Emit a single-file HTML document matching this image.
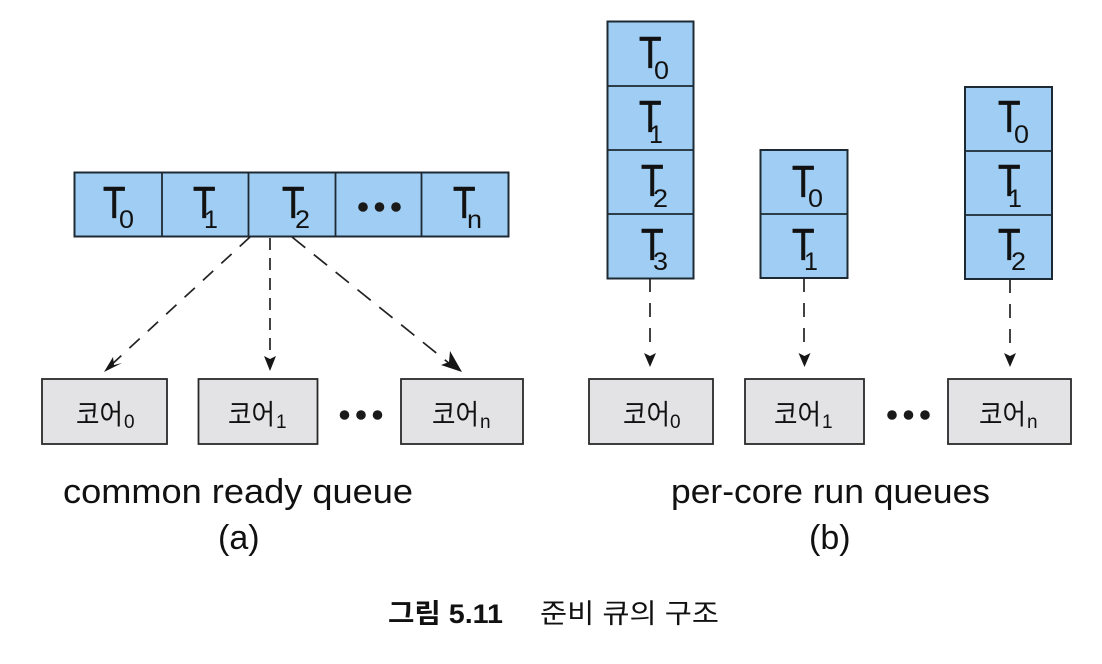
<!DOCTYPE html>
<html><head><meta charset="utf-8">
<style>
html,body{margin:0;padding:0;background:#fff;width:1102px;height:664px;overflow:hidden}
svg{display:block;filter:blur(0.35px)}
text{fill:#111;font-family:"Liberation Sans",sans-serif}
.t{font-size:32px;stroke:#111;stroke-width:.5px}
.s{font-size:25px}
.k{font-family:"Liberation Sans","Noto Sans CJK KR",sans-serif;font-size:28px;font-weight:400}
.c{font-size:19px}
.l{font-size:34px}
</style></head><body>
<svg width="1102" height="664" viewBox="0 0 1102 664" xmlns="http://www.w3.org/2000/svg">
<rect width="1102" height="664" fill="#fff"/>
<g fill="#9fcdf3" stroke="#1d2a33" stroke-width="2">
<rect x="74.500" y="172.500" width="434" height="64"/>
<rect x="607.500" y="21.500" width="86" height="257"/>
<rect x="760.500" y="150" width="87" height="128"/>
<rect x="965" y="87" width="87" height="192"/>
</g>
<g stroke="#1d2a33" stroke-width="1.800" fill="none">
<path d="M162 172V236M248.500 172V236M335.500 172V236M421.500 172V236"/>
<path d="M607 86H693M607 150H693M607 214H693"/>
<path d="M760 214H847"/>
<path d="M965 151H1052M965 215H1052"/>
</g>
<g fill="#e3e3e5" stroke="#2a2a2a" stroke-width="1.800">
<rect x="42" y="379" width="125" height="65"/>
<rect x="198.500" y="379" width="119" height="65"/>
<rect x="401" y="379" width="122" height="65"/>
<rect x="589" y="379" width="124" height="65"/>
<rect x="745" y="379" width="119" height="65"/>
<rect x="948" y="379" width="123" height="65"/>
</g>

<!-- left queue labels -->
<text class="t" transform="translate(103,218) scale(1.150,1.400)">T</text><text class="s" x="119" y="228" textLength="15" lengthAdjust="spacingAndGlyphs">0</text>
<text class="t" transform="translate(193,218) scale(1.150,1.400)">T</text><text class="s" x="204" y="228">1</text>
<text class="t" transform="translate(282,218) scale(1.150,1.400)">T</text><text class="s" x="295" y="228" textLength="15" lengthAdjust="spacingAndGlyphs">2</text>
<text class="t" transform="translate(453,218) scale(1.150,1.400)">T</text><text class="s" x="467" y="228" textLength="15" lengthAdjust="spacingAndGlyphs">n</text>
<g fill="#1a1a1a"><circle cx="363" cy="207" r="4.800"/><circle cx="379.500" cy="207" r="4.800"/><circle cx="396" cy="207" r="4.800"/></g>

<!-- stack 1 -->
<text class="t" transform="translate(639,68) scale(1.150,1.400)">T</text><text class="s" x="654" y="79" textLength="15" lengthAdjust="spacingAndGlyphs">0</text>
<text class="t" transform="translate(639,132) scale(1.150,1.400)">T</text><text class="s" x="649" y="143">1</text>
<text class="t" transform="translate(641,196) scale(1.150,1.400)">T</text><text class="s" x="653" y="207" textLength="15" lengthAdjust="spacingAndGlyphs">2</text>
<text class="t" transform="translate(641,260) scale(1.150,1.400)">T</text><text class="s" x="653" y="270" textLength="15" lengthAdjust="spacingAndGlyphs">3</text>
<!-- stack 2 -->
<text class="t" transform="translate(792,197) scale(1.150,1.400)">T</text><text class="s" x="808" y="207" textLength="15" lengthAdjust="spacingAndGlyphs">0</text>
<text class="t" transform="translate(792,260) scale(1.150,1.400)">T</text><text class="s" x="804" y="270">1</text>
<!-- stack 3 -->
<text class="t" transform="translate(998,132) scale(1.150,1.400)">T</text><text class="s" x="1014" y="143" textLength="15" lengthAdjust="spacingAndGlyphs">0</text>
<text class="t" transform="translate(998,196) scale(1.150,1.400)">T</text><text class="s" x="1008" y="207">1</text>
<text class="t" transform="translate(998,260) scale(1.150,1.400)">T</text><text class="s" x="1011" y="270" textLength="15" lengthAdjust="spacingAndGlyphs">2</text>

<!-- connectors -->
<g stroke="#222" stroke-width="1.700" fill="none" stroke-dasharray="14 11">
<path d="M250 237L110 366"/>
<path d="M270 238V356" stroke-dasharray="12 8"/>
<path d="M292 237L450 364" stroke-dasharray="17 11"/>
<path d="M650 278V345"/>
<path d="M804 278V345"/>
<path d="M1010 279V345"/>
</g>
<g fill="#161616">
<path d="M104 372L113 357L114 365L122 363Z"/>
<path d="M270 371L264 356L270 359L276 356Z"/>
<path d="M462 372L441 365L449 362L450 351Z"/>
<path d="M650 367L644 353L650 356L656 353Z"/>
<path d="M804.500 367L798.500 353L804.500 356L810.500 353Z"/>
<path d="M1010 367L1004 353L1010 356L1016 353Z"/>
</g>

<!-- core labels -->
<text class="k" x="76" y="424" textLength="47" lengthAdjust="spacingAndGlyphs">코어</text><text class="c" x="124" y="428">0</text>
<text class="k" x="228" y="424" textLength="47" lengthAdjust="spacingAndGlyphs">코어</text><text class="c" x="276" y="428">1</text>
<text class="k" x="432" y="424" textLength="47" lengthAdjust="spacingAndGlyphs">코어</text><text class="c" x="480" y="428">n</text>
<text class="k" x="623" y="424" textLength="47" lengthAdjust="spacingAndGlyphs">코어</text><text class="c" x="670" y="428">0</text>
<text class="k" x="774" y="424" textLength="47" lengthAdjust="spacingAndGlyphs">코어</text><text class="c" x="822" y="428">1</text>
<text class="k" x="979" y="424" textLength="47" lengthAdjust="spacingAndGlyphs">코어</text><text class="c" x="1027" y="428">n</text>
<g fill="#1a1a1a">
<circle cx="344.500" cy="415" r="4.800"/><circle cx="361" cy="415" r="4.800"/><circle cx="377.500" cy="415" r="4.800"/>
<circle cx="892" cy="415" r="4.800"/><circle cx="908.500" cy="415" r="4.800"/><circle cx="925" cy="415" r="4.800"/>
</g>

<!-- titles -->
<text class="l" x="63" y="503" textLength="350" lengthAdjust="spacingAndGlyphs">common ready queue</text>
<text class="l" x="218" y="549">(a)</text>
<text class="l" x="671" y="503" textLength="319" lengthAdjust="spacingAndGlyphs">per-core run queues</text>
<text class="l" x="809" y="549">(b)</text>

<!-- caption -->
<text x="388" y="623" style="font-family:'Liberation Sans','Noto Sans CJK KR',sans-serif;font-size:27px;font-weight:700" textLength="115" lengthAdjust="spacingAndGlyphs">그림 5.11</text>
<text x="540" y="623" style="font-family:'Liberation Sans','Noto Sans CJK KR',sans-serif;font-size:27px;font-weight:400" textLength="179" lengthAdjust="spacingAndGlyphs">준비 큐의 구조</text>
</svg>
</body></html>
